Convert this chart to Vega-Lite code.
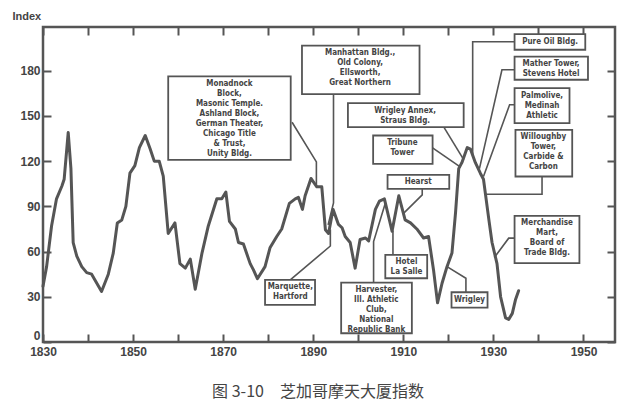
{
  "$schema": "https://vega.github.io/schema/vega-lite/v6.json",
  "width": 572,
  "height": 315,
  "autosize": {"type": "none"},
  "padding": {"left": 43, "top": 27, "right": 25, "bottom": 63},
  "background": "white",
  "title": {
    "text": "图 3-10　芝加哥摩天大厦指数",
    "orient": "bottom",
    "anchor": "middle",
    "dx": -11,
    "offset": 27,
    "font": "Noto Sans CJK SC",
    "fontSize": 16,
    "fontWeight": "normal",
    "color": "#444"
  },
  "config": {
    "view": {"stroke": "#555", "strokeWidth": 2.5},
    "axis": {
      "domain": false,
      "grid": false,
      "tickColor": "#555",
      "tickWidth": 2,
      "tickSize": -8,
      "labelFlush": false,
      "labelFont": "Liberation Sans",
      "labelFontWeight": "bold",
      "labelFontSize": 12,
      "labelColor": "#444",
      "titleFont": "Liberation Sans",
      "titleFontWeight": "bold",
      "titleFontSize": 11,
      "titleColor": "#444"
    },
    "text": {"font": "DejaVu Sans Condensed", "fontWeight": "bold", "fontSize": 8, "color": "#444", "lineHeight": 10}
  },
  "datasets": {
    "series": [
      {"year": 1830.0, "index": 37},
      {"year": 1830.8, "index": 50},
      {"year": 1831.9, "index": 77},
      {"year": 1833.0, "index": 95},
      {"year": 1834.2, "index": 103.5},
      {"year": 1834.7, "index": 108},
      {"year": 1835.6, "index": 139},
      {"year": 1836.2, "index": 115},
      {"year": 1836.7, "index": 66},
      {"year": 1837.5, "index": 57},
      {"year": 1838.6, "index": 50},
      {"year": 1839.7, "index": 46},
      {"year": 1840.8, "index": 45},
      {"year": 1843.0, "index": 33.5},
      {"year": 1844.5, "index": 45},
      {"year": 1845.6, "index": 59},
      {"year": 1846.5, "index": 79},
      {"year": 1847.5, "index": 81},
      {"year": 1848.4, "index": 90},
      {"year": 1849.3, "index": 112},
      {"year": 1850.4, "index": 117},
      {"year": 1851.4, "index": 129},
      {"year": 1852.7, "index": 137},
      {"year": 1853.8, "index": 128},
      {"year": 1854.7, "index": 120},
      {"year": 1855.8, "index": 120},
      {"year": 1856.7, "index": 110},
      {"year": 1857.8, "index": 72},
      {"year": 1859.3, "index": 79},
      {"year": 1860.4, "index": 52},
      {"year": 1861.6, "index": 49},
      {"year": 1862.7, "index": 55},
      {"year": 1863.8, "index": 35},
      {"year": 1865.3, "index": 59},
      {"year": 1866.7, "index": 77},
      {"year": 1868.6, "index": 95},
      {"year": 1869.7, "index": 95},
      {"year": 1870.6, "index": 99.5},
      {"year": 1871.4, "index": 80},
      {"year": 1872.7, "index": 75},
      {"year": 1873.4, "index": 66},
      {"year": 1874.5, "index": 65},
      {"year": 1876.0, "index": 52},
      {"year": 1876.7, "index": 48},
      {"year": 1877.6, "index": 42},
      {"year": 1879.3, "index": 50},
      {"year": 1880.4, "index": 62.5},
      {"year": 1881.9, "index": 70},
      {"year": 1883.0, "index": 75},
      {"year": 1884.7, "index": 92},
      {"year": 1886.0, "index": 95},
      {"year": 1886.7, "index": 96},
      {"year": 1887.6, "index": 88},
      {"year": 1888.2, "index": 97},
      {"year": 1889.5, "index": 108.5},
      {"year": 1890.8, "index": 103},
      {"year": 1891.9, "index": 103},
      {"year": 1892.7, "index": 74.5},
      {"year": 1893.4, "index": 72},
      {"year": 1894.4, "index": 88},
      {"year": 1895.6, "index": 78},
      {"year": 1896.4, "index": 75.8},
      {"year": 1897.1, "index": 70},
      {"year": 1898.2, "index": 66},
      {"year": 1899.3, "index": 49},
      {"year": 1900.4, "index": 68},
      {"year": 1901.6, "index": 69},
      {"year": 1902.3, "index": 67},
      {"year": 1903.8, "index": 88},
      {"year": 1904.7, "index": 93.5},
      {"year": 1905.8, "index": 95},
      {"year": 1907.5, "index": 73.5},
      {"year": 1909.0, "index": 97},
      {"year": 1910.4, "index": 81},
      {"year": 1911.6, "index": 79},
      {"year": 1913.0, "index": 75},
      {"year": 1914.5, "index": 69},
      {"year": 1915.6, "index": 70},
      {"year": 1916.7, "index": 48},
      {"year": 1917.6, "index": 26},
      {"year": 1918.6, "index": 39},
      {"year": 1919.7, "index": 50},
      {"year": 1920.8, "index": 59},
      {"year": 1921.6, "index": 86},
      {"year": 1922.3, "index": 115},
      {"year": 1923.0, "index": 119},
      {"year": 1924.2, "index": 129},
      {"year": 1924.9, "index": 128},
      {"year": 1926.0, "index": 119},
      {"year": 1927.1, "index": 112},
      {"year": 1927.8, "index": 108},
      {"year": 1929.0, "index": 81},
      {"year": 1929.7, "index": 66},
      {"year": 1930.8, "index": 52},
      {"year": 1931.6, "index": 30},
      {"year": 1932.7, "index": 16},
      {"year": 1933.4, "index": 15},
      {"year": 1934.2, "index": 19},
      {"year": 1934.9, "index": 28},
      {"year": 1935.6, "index": 34}
    ],
    "boxes": [
      {"x1": 1857.8, "x2": 1885.0, "y1": 176.2, "y2": 120.8, "cx": 1871.4, "label": ["Monadnock", "Block,", "Masonic Temple.", "Ashland Block,", "German Theater,", "Chicago Title", "& Trust,", "Unity Bldg."]},
      {"x1": 1887.5, "x2": 1913.6, "y1": 196.7, "y2": 164.5, "cx": 1900.4, "label": ["Manhattan Bldg.,", "Old Colony,", "Ellsworth,", "Great Northern"]},
      {"x1": 1897.7, "x2": 1923.4, "y1": 158.5, "y2": 142.6, "cx": 1910.4, "label": ["Wrigley Annex,", "Straus Bldg."]},
      {"x1": 1903.3, "x2": 1916.5, "y1": 137.0, "y2": 118.2, "cx": 1909.8, "label": ["Tribune", "Tower"]},
      {"x1": 1906.5, "x2": 1920.2, "y1": 110.9, "y2": 101.6, "cx": 1913.3, "label": ["Hearst"]},
      {"x1": 1934.7, "x2": 1950.4, "y1": 204.3, "y2": 193.9, "cx": 1942.6, "label": ["Pure Oil Bldg."]},
      {"x1": 1934.7, "x2": 1951.0, "y1": 189.4, "y2": 174.0, "cx": 1942.8, "label": ["Mather Tower,", "Stevens Hotel"]},
      {"x1": 1934.7, "x2": 1946.9, "y1": 168.5, "y2": 145.2, "cx": 1940.8, "label": ["Palmolive,", "Medinah", "Athletic"]},
      {"x1": 1934.9, "x2": 1947.5, "y1": 140.8, "y2": 109.8, "cx": 1941.1, "label": ["Willoughby", "Tower,", "Carbide &", "Carbon"]},
      {"x1": 1934.7, "x2": 1949.1, "y1": 83.7, "y2": 52.3, "cx": 1941.9, "label": ["Merchandise", "Mart,", "Board of", "Trade Bldg."]},
      {"x1": 1920.7, "x2": 1928.7, "y1": 33.0, "y2": 22.8, "cx": 1924.7, "label": ["Wrigley"]},
      {"x1": 1906.0, "x2": 1915.3, "y1": 57.8, "y2": 42.3, "cx": 1910.7, "label": ["Hotel", "La Salle"]},
      {"x1": 1896.2, "x2": 1911.9, "y1": 39.4, "y2": 5.8, "cx": 1904.0, "label": ["Harvester,", "Ill. Athletic", "Club,", "National", "Republic Bank"]},
      {"x1": 1879.3, "x2": 1890.4, "y1": 41.2, "y2": 24.6, "cx": 1884.9, "label": ["Marquette,", "Hartford"]}
    ],
    "leaders": [
      {"id": "monadnock", "ord": 1, "year": 1885.3, "index": 145.8},
      {"id": "monadnock", "ord": 2, "year": 1890.7, "index": 119.5},
      {"id": "monadnock", "ord": 3, "year": 1890.7, "index": 104},
      {"id": "manhattan", "ord": 1, "year": 1894.5, "index": 164.5},
      {"id": "manhattan", "ord": 2, "year": 1894.5, "index": 92.3},
      {"id": "manhattan", "ord": 3, "year": 1893.3, "index": 77.7},
      {"id": "marquette", "ord": 1, "year": 1884.9, "index": 41.2},
      {"id": "marquette", "ord": 2, "year": 1893.8, "index": 63.7},
      {"id": "marquette", "ord": 3, "year": 1893.8, "index": 74.7},
      {"id": "annex", "ord": 1, "year": 1919.0, "index": 142.6},
      {"id": "annex", "ord": 2, "year": 1923.4, "index": 121},
      {"id": "tribune", "ord": 1, "year": 1916.5, "index": 128.8},
      {"id": "tribune", "ord": 2, "year": 1922.7, "index": 116},
      {"id": "hearst", "ord": 1, "year": 1914.2, "index": 101.6},
      {"id": "hearst", "ord": 2, "year": 1914.2, "index": 97.6},
      {"id": "hearst", "ord": 3, "year": 1910.1, "index": 85.5},
      {"id": "pureoil", "ord": 1, "year": 1934.7, "index": 199.2},
      {"id": "pureoil", "ord": 2, "year": 1925.4, "index": 199.2},
      {"id": "pureoil", "ord": 3, "year": 1925.4, "index": 124},
      {"id": "mather", "ord": 1, "year": 1934.7, "index": 180.6},
      {"id": "mather", "ord": 2, "year": 1931.9, "index": 180.6},
      {"id": "mather", "ord": 3, "year": 1926.9, "index": 115},
      {"id": "palmolive", "ord": 1, "year": 1934.7, "index": 157.4},
      {"id": "palmolive", "ord": 2, "year": 1933.6, "index": 157.4},
      {"id": "palmolive", "ord": 3, "year": 1927.8, "index": 109.8},
      {"id": "willoughby", "ord": 1, "year": 1940.8, "index": 109.8},
      {"id": "willoughby", "ord": 2, "year": 1940.8, "index": 98},
      {"id": "willoughby", "ord": 3, "year": 1928.4, "index": 98},
      {"id": "merchandise", "ord": 1, "year": 1934.7, "index": 68.9},
      {"id": "merchandise", "ord": 2, "year": 1933.4, "index": 68.9},
      {"id": "merchandise", "ord": 3, "year": 1930.2, "index": 56},
      {"id": "wrigley", "ord": 1, "year": 1923.9, "index": 33},
      {"id": "wrigley", "ord": 2, "year": 1923.9, "index": 42.3},
      {"id": "wrigley", "ord": 3, "year": 1919.7, "index": 50},
      {"id": "lasalle", "ord": 1, "year": 1907.7, "index": 57.8},
      {"id": "lasalle", "ord": 2, "year": 1907.7, "index": 74},
      {"id": "harvester", "ord": 1, "year": 1903.4, "index": 39.4},
      {"id": "harvester", "ord": 2, "year": 1903.4, "index": 66.6},
      {"id": "harvester", "ord": 3, "year": 1906.0, "index": 92}
    ]
  },
  "resolve": {"axis": {"x": "independent", "y": "independent"}},
  "layer": [
    {
      "data": {"name": "series"},
      "mark": {"type": "line", "color": "#555", "strokeWidth": 3, "strokeJoin": "round", "strokeCap": "round"},
      "encoding": {
        "x": {
          "field": "year",
          "type": "quantitative",
          "scale": {"domain": [1830, 1957], "nice": false, "zero": false},
          "axis": {
            "title": null,
            "orient": "bottom",
            "values": [1830, 1840, 1850, 1860, 1870, 1880, 1890, 1900, 1910, 1920, 1930, 1940, 1950],
            "format": "d",
            "labelExpr": "datum.value % 20 == 0 ? '' : datum.label",
            "labelPadding": 12
          }
        },
        "y": {
          "field": "index",
          "type": "quantitative",
          "scale": {"domain": [0, 209], "nice": false},
          "axis": {
            "title": "Index",
            "titleAngle": 0,
            "titleAlign": "left",
            "titleBaseline": "bottom",
            "titleX": -31,
            "titleY": -6,
            "values": [0, 30, 60, 90, 120, 150, 180],
            "labelFlush": true,
            "labelPadding": 11
          }
        }
      }
    },
    {
      "data": {"name": "leaders"},
      "mark": {"type": "line", "color": "#555", "strokeWidth": 1.6},
      "encoding": {
        "x": {"field": "year", "type": "quantitative", "axis": null},
        "y": {"field": "index", "type": "quantitative", "axis": null},
        "detail": {"field": "id"},
        "order": {"field": "ord"}
      }
    },
    {
      "data": {"name": "boxes"},
      "mark": {"type": "rect", "fill": "white", "stroke": "#555", "strokeWidth": 1.8},
      "encoding": {
        "x": {
          "field": "x1",
          "type": "quantitative",
          "axis": {
            "orient": "top",
            "title": null,
            "labels": false,
            "values": [1830, 1840, 1850, 1860, 1870, 1880, 1890, 1900, 1910, 1920, 1930, 1940, 1950]
          }
        },
        "x2": {"field": "x2"},
        "y": {
          "field": "y1",
          "type": "quantitative",
          "axis": {
            "orient": "right",
            "title": null,
            "labels": false,
            "values": [0, 30, 60, 90, 120, 150, 180]
          }
        },
        "y2": {"field": "y2"}
      }
    },
    {
      "data": {"name": "boxes"},
      "mark": {"type": "text", "align": "center", "baseline": "top", "dy": 3.5},
      "encoding": {
        "x": {"field": "cx", "type": "quantitative", "axis": null},
        "y": {"field": "y1", "type": "quantitative", "axis": null},
        "text": {"field": "label"}
      }
    }
  ]
}
